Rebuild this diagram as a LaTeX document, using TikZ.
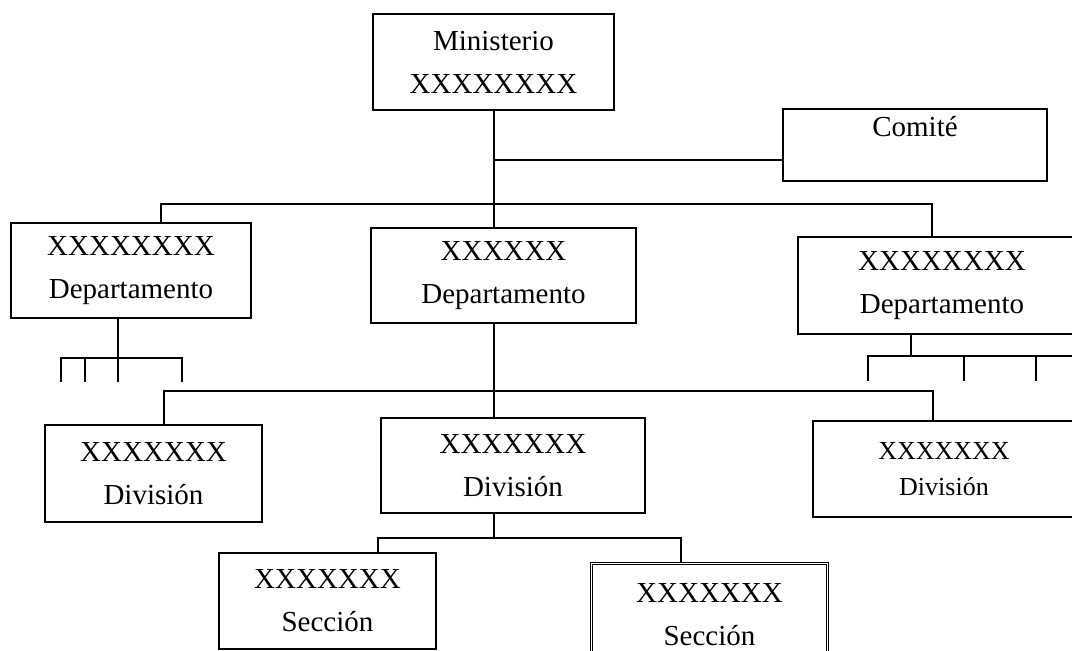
\documentclass[tikz,border=0pt]{standalone}
\usepackage{fontspec}
\setmainfont{Liberation Serif}
\begin{document}
\begin{tikzpicture}[x=1pt,y=-1pt,
  box/.style={draw,line width=2pt,rectangle,inner sep=0pt,align=center,
    font=\fontsize{29}{43}\selectfont},
  smallbox/.style={box,font=\fontsize{26}{36}\selectfont},
  conn/.style={line width=2pt}]
\useasboundingbox (0,0) rectangle (1072,651);
\clip (0,0) rectangle (1072,651);
\fill[white] (0,0) rectangle (1072,651);
% boxes
\node[box,minimum width=241pt,minimum height=96pt] (min) at (493.5,62) {Ministerio\\XXXXXXXX};
\node[box,minimum width=264pt,minimum height=72pt,text height=20pt,text depth=38pt] (com) at (915,145) {Comité};
\node[box,minimum width=240pt,minimum height=95pt] (d1) at (131,270.5) {XXXXXXXX\\Departamento};
\node[box,minimum width=265pt,minimum height=95pt] (d2) at (503.5,275.5) {XXXXXX\\Departamento};
\node[box,minimum width=288pt,minimum height=97pt] (d3) at (942,285.5) {XXXXXXXX\\Departamento};
\node[box,minimum width=217pt,minimum height=97pt] (v1) at (153.5,473.5) {XXXXXXX\\División};
\node[box,minimum width=264pt,minimum height=95pt] (v2) at (513,465.5) {XXXXXXX\\División};
\node[smallbox,minimum width=262pt,minimum height=96pt] (v3) at (944,469) {XXXXXXX\\División};
\node[box,minimum width=217pt,minimum height=96pt] (s1) at (327.5,601) {XXXXXXX\\Sección};
\node[box,line width=1.2pt,double,double distance=0.9pt,minimum width=236pt,minimum height=103pt] (s2) at (709.5,615) {XXXXXXX\\Sección};
% junction coordinates
\coordinate (jc) at (494,160);
\coordinate (tl) at (161,204);
\coordinate (tr) at (932,204);
\coordinate (dl) at (164,391);
\coordinate (dr) at (933,391);
\coordinate (sl) at (378,538);
\coordinate (sr) at (681,538);
\coordinate (lj) at (118,358);
\coordinate (la) at (61,358);
\coordinate (lb) at (85,358);
\coordinate (lc) at (182,358);
\coordinate (rj) at (911,356);
\coordinate (ra) at (868,356);
\coordinate (rb) at (964,356);
\coordinate (rc) at (1036,356);
\coordinate (rd) at (1080,356);
% connectors
\draw[conn] (min.south) -- (min.south |- d2.north);
\draw[conn] (jc) -- (com.west |- jc);
\draw[conn] (tl |- d1.north) -- (tl) -- (tr) -- (tr |- d3.north);
\draw[conn] (d2.south -| jc) -- (jc |- v2.north);
\draw[conn] (dl |- v1.north) -- (dl) -- (dr) -- (dr |- v3.north);
\draw[conn] (v2.south -| jc) -- (jc |- sl);
\draw[conn] (sl |- s1.north) -- (sl) -- (sr) -- (sr |- s2.north);
% left department sub-ticks
\draw[conn] (d1.south -| lj) -- (118,382);
\draw[conn] (61,382) -- (la) -- (lc) -- (182,382);
\draw[conn] (lb) -- (85,382);
% right department sub-ticks
\draw[conn] (d3.south -| rj) -- (rj);
\draw[conn] (868,381) -- (ra) -- (rd);
\draw[conn] (rb) -- (964,381);
\draw[conn] (rc) -- (1036,381);
\end{tikzpicture}
\end{document}
